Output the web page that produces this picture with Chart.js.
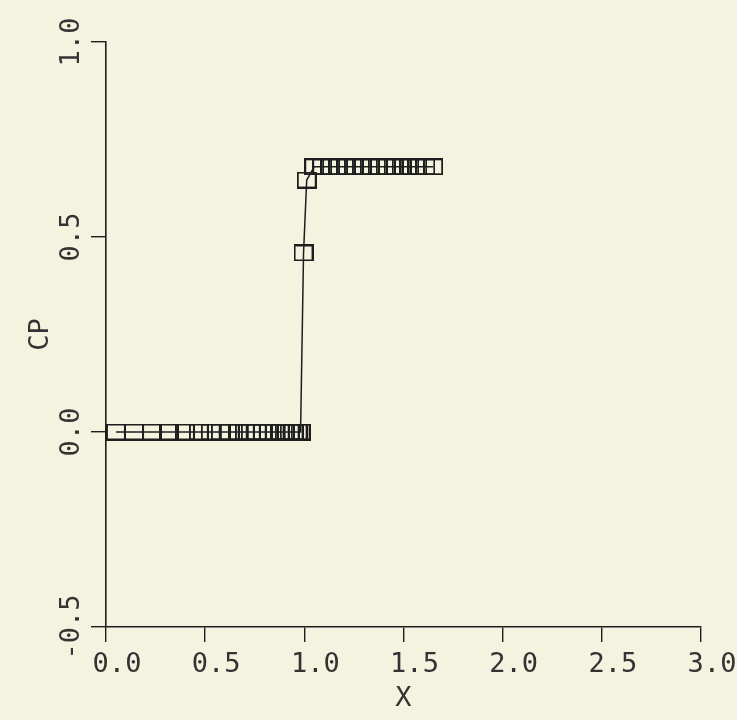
<!DOCTYPE html>
<html>
<head>
<meta charset="utf-8">
<script src="https://cdn.jsdelivr.net/npm/chart.js@4"></script>
<style>
  html, body { margin: 0; padding: 0; background: #f4f3e0; }
  #wrap { width: 737px; height: 720px; }
</style>
</head>
<body>
<div id="wrap"><canvas id="cpChart" width="737" height="720"></canvas></div>
<script>
// computed CP values (squares)
const xValues = [0.05, 0.141, 0.232, 0.317, 0.398, 0.468, 0.528, 0.579, 0.624, 0.664,
  0.70, 0.73, 0.76, 0.79, 0.82, 0.85, 0.876, 0.901, 0.926, 0.946, 0.966, 0.981,
  0.996, 1.012,
  1.05, 1.09, 1.13, 1.17, 1.21, 1.25, 1.29, 1.33, 1.37, 1.41, 1.45, 1.49, 1.53, 1.57, 1.61, 1.65];
const cpValues = [0, 0, 0, 0, 0, 0, 0, 0, 0, 0,
  0, 0, 0, 0, 0, 0, 0, 0, 0, 0, 0, 0,
  0.459, 0.646,
  0.68, 0.68, 0.68, 0.68, 0.68, 0.68, 0.68, 0.68, 0.68, 0.68, 0.68, 0.68, 0.68, 0.68, 0.68, 0.68];
const xTicks = [0, 0.5, 1.0, 1.5, 2.0, 2.5, 3.0];
const yTicks = [-0.5, 0, 0.5, 1.0];

const ink = "#1e1e1e";
const tickFont = { family: "'DejaVu Sans Mono', monospace", size: 27 };

// open square marker, a bit wider than tall
const marker = document.createElement("canvas");
marker.width = 20;
marker.height = 17;
const mctx = marker.getContext("2d");
mctx.strokeStyle = ink;
mctx.lineWidth = 2;
mctx.strokeRect(1, 1, 18, 15);

const points = xValues.map((x, i) => ({ x: x, y: cpValues[i] }));

const ctx = document.getElementById("cpChart").getContext("2d");
const cpChart = new Chart(ctx, {
  type: "scatter",
  data: {
    datasets: [
      {
        label: "CP",
        data: points,
        showLine: true,
        borderColor: ink,
        borderWidth: 1.5,
        pointStyle: marker,
        pointRadius: 10,
        fill: false,
      },
    ],
  },
  options: {
    responsive: false,
    animation: false,
    layout: { padding: { top: 42, right: 36, left: 0, bottom: 0 } },
    plugins: {
      legend: { display: false },
      tooltip: { enabled: false },
    },
    scales: {
      x: {
        type: "linear",
        min: 0,
        max: 3,
        afterBuildTicks: (s) => { s.ticks = xTicks.map(v => ({ value: v })); },
        afterFit: (s) => { s.height = 93; },
        border: { display: true, color: ink, width: 1.6 },
        grid: { display: true, drawOnChartArea: false, drawTicks: true, tickLength: 15, color: ink, lineWidth: 1.4 },
        ticks: {
          font: tickFont,
          color: "#333",
          padding: 7,
          labelOffset: 11,
          maxRotation: 0,
          callback: (v) => Number(v).toFixed(1),
        },
        title: {
          display: true,
          text: "X",
          color: "#333",
          font: { family: "'DejaVu Sans Mono', monospace", size: 27 },
          padding: { top: 0, bottom: 5 },
        },
      },
      y: {
        type: "linear",
        min: -0.5,
        max: 1.0,
        afterBuildTicks: (s) => { s.ticks = yTicks.map(v => ({ value: v })); },
        afterFit: (s) => { s.width = 106; },
        border: { display: true, color: ink, width: 1.6 },
        grid: { display: true, drawOnChartArea: false, drawTicks: true, tickLength: 15, color: ink, lineWidth: 1.4 },
        ticks: {
          font: tickFont,
          color: "#333",
          minRotation: 90,
          maxRotation: 90,
          crossAlign: "center",
          padding: -13,
          callback: (v) => Number(v).toFixed(1),
        },
        title: {
          display: true,
          text: "CP",
          color: "#333",
          font: { family: "'DejaVu Sans Mono', monospace", size: 27 },
          padding: { top: 25, bottom: 0 },
        },
      },
    },
  },
});
</script>
</body>
</html>
